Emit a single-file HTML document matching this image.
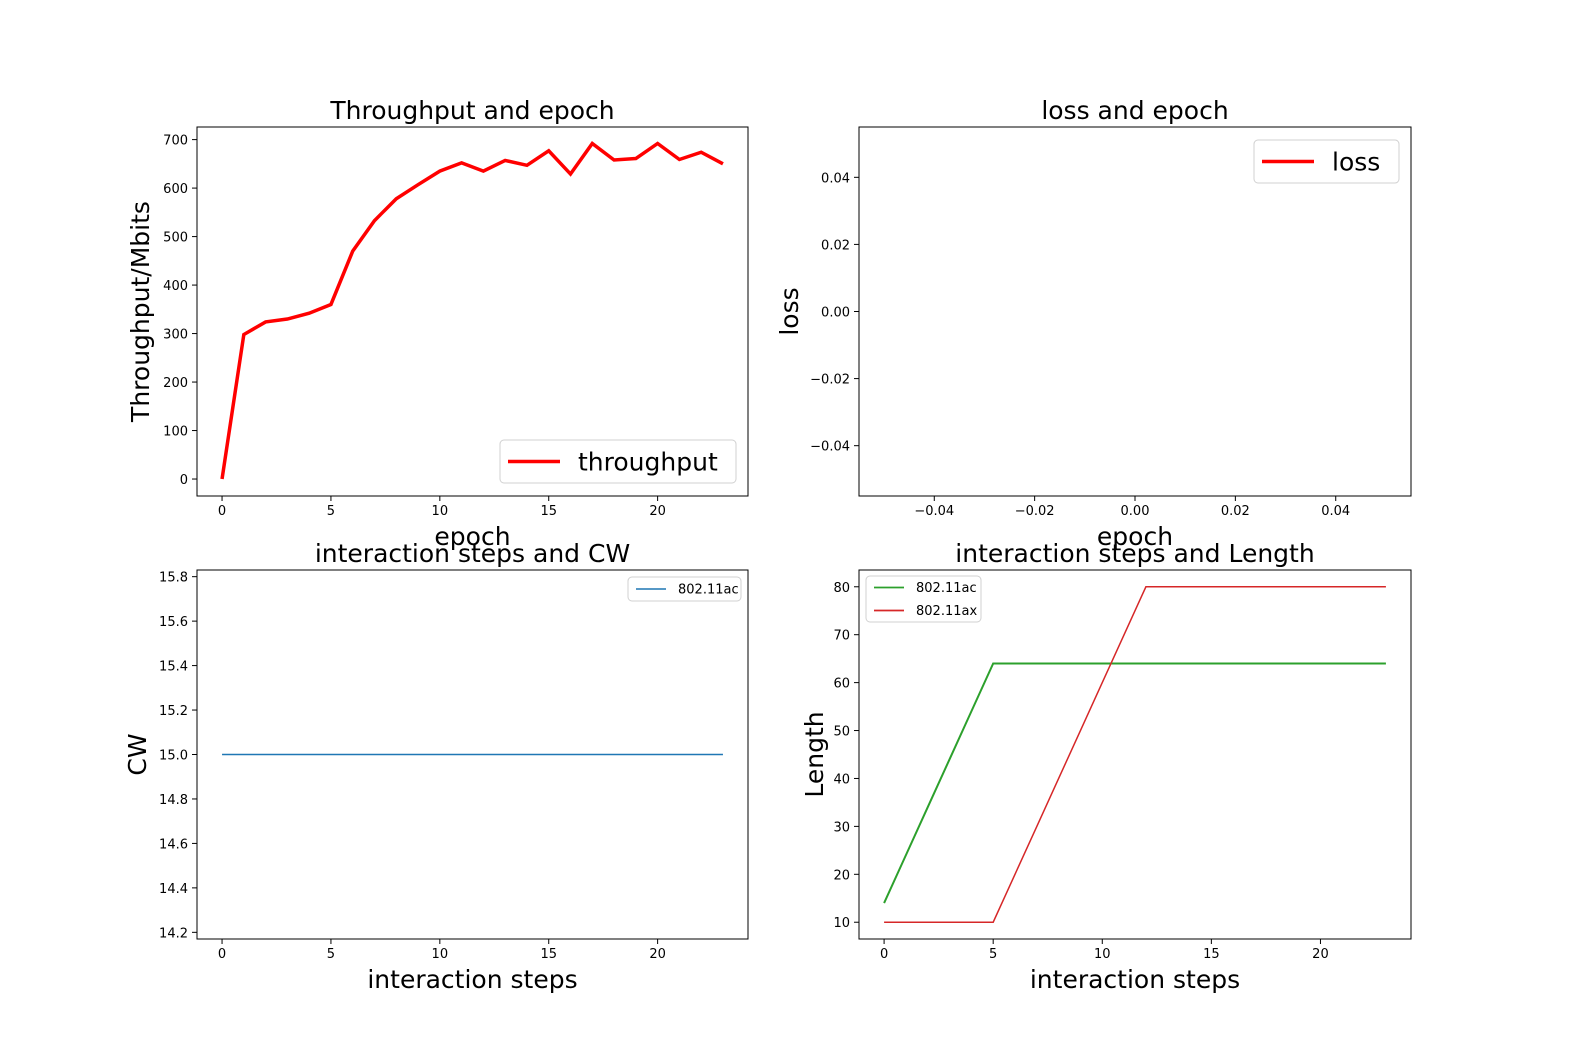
<!DOCTYPE html>
<html><head><meta charset="utf-8">
<style>
body{margin:0;background:#fff;}
svg{display:block;font-family:"DejaVu Sans","Liberation Sans",sans-serif;}
</style></head>
<body>
<svg id="fig" width="1574" height="1059" viewBox="0 0 1574 1059" xmlns="http://www.w3.org/2000/svg"></svg>
<script>
// Data
const epochs = [0,1,2,3,4,5,6,7,8,9,10,11,12,13,14,15,16,17,18,19,20,21,22,23];
const throughput = [0,298,324,330,342,360,470,533,578,607,635,652,635,657,647,677,629,692,658,661,692,659,674,650];
const steps = [0,1,2,3,4,5,6,7,8,9,10,11,12,13,14,15,16,17,18,19,20,21,22,23];
const cw = [15,15,15,15,15,15,15,15,15,15,15,15,15,15,15,15,15,15,15,15,15,15,15,15];
const lenAc = [14,24,34,44,54,64,64,64,64,64,64,64,64,64,64,64,64,64,64,64,64,64,64,64];
const lenAx = [10,10,10,10,10,10,20,30,40,50,60,70,80,80,80,80,80,80,80,80,80,80,80,80];
const tpXTicks = [0,5,10,15,20];
const tpYTicks = [0,100,200,300,400,500,600,700];
const lossTicks = ["−0.04","−0.02","0.00","0.02","0.04"];
const lossTickVals = [-0.04,-0.02,0,0.02,0.04];
const cwYTicks = [14.2,14.4,14.6,14.8,15.0,15.2,15.4,15.6,15.8];
const lenYTicks = [10,20,30,40,50,60,70,80];

const NS="http://www.w3.org/2000/svg";
const fig=document.getElementById('fig');
function mk(tag,attrs,parent,text){const e=document.createElementNS(NS,tag);for(const k in attrs)e.setAttribute(k,attrs[k]);if(text!==undefined)e.textContent=text;(parent||fig).appendChild(e);return e;}

function axes(name,L,T,R,B,xmin,xmax,ymin,ymax){
  const g=mk('g',{});
  
  
  const sx=v=>L+(v-xmin)/(xmax-xmin)*(R-L);
  const sy=v=>B-(v-ymin)/(ymax-ymin)*(B-T);
  return {g,sx,sy,L,T,R,B};
}
function frame(a){
  const r=mk('rect',{x:a.L,y:a.T,width:a.R-a.L,height:a.B-a.T,fill:'none',stroke:'#000','stroke-width':1},a.g);
  
  
}
function xticks(a,vals,labels,fmt){
  vals.forEach((v,i)=>{const x=a.sx(v);
    mk('line',{x1:x,x2:x,y1:a.B,y2:a.B+5,stroke:'#000'},a.g);
    const t=mk('text',{x:x,y:a.B+19,'font-size':13,'text-anchor':'middle'},a.g,labels?labels[i]:fmt(v));
    
    
  });
}
function yticks(a,vals,fmt){
  vals.forEach(v=>{const y=a.sy(v);
    mk('line',{x1:a.L-5,x2:a.L,y1:y,y2:y,stroke:'#000'},a.g);
    const t=mk('text',{x:a.L-9,y:y+5,'font-size':13,'text-anchor':'end'},a.g,fmt(v));
    
    
  });
}
function title(a,s){const t=mk('text',{x:(a.L+a.R)/2,y:a.T-8,'font-size':25,'text-anchor':'middle'},a.g,s);
  
  }
function xlabel(a,s){const t=mk('text',{x:(a.L+a.R)/2,y:a.B+49,'font-size':25,'text-anchor':'middle'},a.g,s);
  
  }
function ylabel(a,s,x){const cy=(a.T+a.B)/2;const t=mk('text',{x:x,y:cy,'font-size':25,'text-anchor':'middle',transform:`rotate(-90 ${x} ${cy})`},a.g,s);
  
  }
function line(a,xs,ys,color,w,name){
  const p=mk('polyline',{points:xs.map((x,i)=>a.sx(x)+','+a.sy(ys[i])).join(' '),fill:'none',stroke:color,'stroke-width':w,'stroke-linejoin':'miter'},a.g);
  
  
}
function legend(a,x,y,w,h,items,fs,lw,ll){
  const g=mk('g',{},a.g);
  
  
  mk('rect',{x:x,y:y,width:w,height:h,rx:4,fill:'#fff',stroke:'#d0d0d0'},g);
  items.forEach((it,i)=>{const cy=y+h/items.length*(i+0.5);
    mk('line',{x1:x+8,x2:x+8+ll,y1:cy,y2:cy,stroke:it[1],'stroke-width':lw},g);
    const t=mk('text',{x:x+8+ll+(fs>16?18:12),y:cy+fs*0.36,'font-size':fs},g,it[0]);
    
    
  });
}

// Chart 1
{
const a=axes('throughput-chart',197,127,748,496,-1.15,24.15,-35,726);
line(a,epochs,throughput,'#ff0000',3.5,'throughput-line');
frame(a);
xticks(a,tpXTicks,null,v=>String(v));
yticks(a,tpYTicks,v=>String(v));
title(a,'Throughput and epoch');xlabel(a,'epoch');ylabel(a,'Throughput/Mbits',149);
legend(a,500,440,236,43,[['throughput','#ff0000']],25,3.5,52);
}
// Chart 2
{
const a=axes('loss-chart',859,127,1411,496,-0.055,0.055,-0.055,0.055);
frame(a);
xticks(a,lossTickVals,lossTicks);
yticks(a,lossTickVals,v=>lossTicks[lossTickVals.indexOf(v)]);
title(a,'loss and epoch');xlabel(a,'epoch');ylabel(a,'loss',798);
legend(a,1254,140,145,43,[['loss','#ff0000']],25,3.5,52);
}
// Chart 3
{
const a=axes('cw-chart',197,570,748,939,-1.15,24.15,14.17,15.83);
line(a,steps,cw,'#1f77b4',1.5,'cw-line-802-11ac');
frame(a);
xticks(a,tpXTicks,null,v=>String(v));
yticks(a,cwYTicks,v=>v.toFixed(1));
title(a,'interaction steps and CW');xlabel(a,'interaction steps');ylabel(a,'CW',146);
legend(a,628,577,113,24,[['802.11ac','#1f77b4']],13,1.5,30);
}
// Chart 4
{
const a=axes('length-chart',859,570,1411,939,-1.15,24.15,6.5,83.5);
line(a,steps,lenAc,'#2ca02c',2,'length-line-802-11ac');
line(a,steps,lenAx,'#d62728',1.5,'length-line-802-11ax');
frame(a);
xticks(a,tpXTicks,null,v=>String(v));
yticks(a,lenYTicks,v=>String(v));
title(a,'interaction steps and Length');xlabel(a,'interaction steps');ylabel(a,'Length',823);
legend(a,866,576,115,46,[['802.11ac','#2ca02c'],['802.11ax','#d62728']],13,1.8,30);
}
</script>
</body></html>
